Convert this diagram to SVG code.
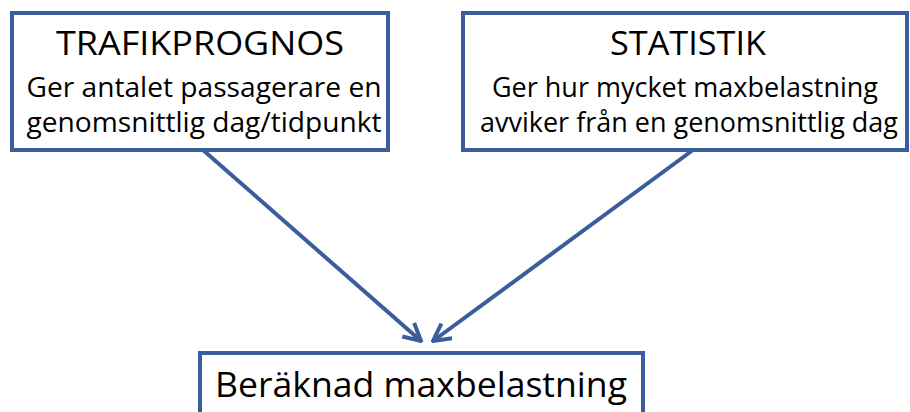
<svg xmlns="http://www.w3.org/2000/svg" width="910" height="412" viewBox="0 0 910 412">
<style>
.box{fill:#fff;stroke:#3A5D9C;stroke-width:4}
.t{font-family:"Open Sans","Liberation Sans",sans-serif;fill:#000;text-anchor:middle}
.conn{stroke:#3A5D9C;stroke-width:4;fill:none}
</style>
<defs>
<marker id="arr" viewBox="0 0 22 22" refX="20" refY="11" markerWidth="22" markerHeight="22" markerUnits="userSpaceOnUse" orient="auto">
<path d="M3,2 L20,11 L3,20" fill="none" stroke="#3A5D9C" stroke-width="4"/>
</marker>
</defs>
<rect width="910" height="412" fill="#fff"/>
<g id="conns">
<line class="conn" x1="203" y1="150" x2="421" y2="341" marker-end="url(#arr)"/>
<line class="conn" x1="693" y1="150" x2="433" y2="341" marker-end="url(#arr)"/>
</g>
<g id="trafikprognos">
<rect class="box" x="12" y="13" width="376" height="137"/>
<text class="t" x="200" y="55" font-size="33" textLength="288" lengthAdjust="spacingAndGlyphs">TRAFIKPROGNOS</text>
<text class="t" x="204" y="97" font-size="27" textLength="355" lengthAdjust="spacingAndGlyphs">Ger antalet passagerare en</text>
<text class="t" x="204" y="132" font-size="27" textLength="355" lengthAdjust="spacingAndGlyphs">genomsnittlig dag/tidpunkt</text>
</g>
<g id="statistik">
<rect class="box" x="463" y="13" width="444" height="137"/>
<text class="t" x="688" y="55" font-size="33" textLength="156" lengthAdjust="spacingAndGlyphs">STATISTIK</text>
<text class="t" x="685" y="97" font-size="27" textLength="386" lengthAdjust="spacingAndGlyphs">Ger hur mycket maxbelastning</text>
<text class="t" x="689" y="132" font-size="27" textLength="418" lengthAdjust="spacingAndGlyphs">avviker från en genomsnittlig dag</text>
</g>
<g id="berakning">
<rect class="box" x="200" y="353" width="443" height="70"/>
<text class="t" x="421" y="397" font-size="34" textLength="412" lengthAdjust="spacingAndGlyphs">Beräknad maxbelastning</text>
</g>
</svg>
